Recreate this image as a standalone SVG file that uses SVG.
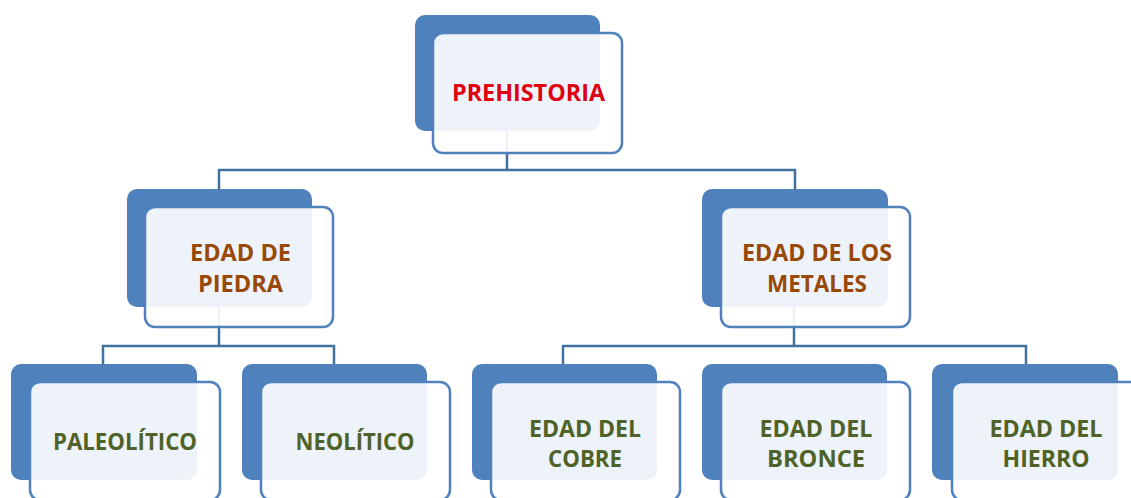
<svg xmlns="http://www.w3.org/2000/svg" width="1131" height="498" viewBox="0 0 1131 498">
<style>
.back{fill:#4f81bd;}
.front{fill:#ffffff;fill-opacity:0.9;stroke:#4f81bd;stroke-width:2.5;}
.conn{fill:none;stroke:#41719c;stroke-width:2.5;}
text{font-family:"Open Sans","Liberation Sans",Arial,sans-serif;font-weight:bold;font-size:24px;text-anchor:middle;}
.red{fill:#e0000f;}
.brown{fill:#984807;}
.green{fill:#4f6228;}
</style>
<rect width="1131" height="498" fill="#ffffff"/>
<g id="connectors">
<path class="conn" d="M507,131 V170 M219,189 V170 H795 V189"/>
<path class="conn" d="M219,307 V346 M103,364 V346 H334 V364"/>
<path class="conn" d="M794,307 V346 M563,364 V346 H1026 V364"/>
</g>
<g id="prehistoria">
<rect class="back" x="415" y="15" width="185" height="116" rx="10"/>
<rect class="front" x="433" y="33" width="189" height="120" rx="10"/>
<text class="red" x="528.5" y="101" textLength="153" lengthAdjust="spacingAndGlyphs">PREHISTORIA</text>
</g>
<g id="piedra">
<rect class="back" x="127" y="189" width="185" height="118" rx="10"/>
<rect class="front" x="145" y="207" width="188" height="120" rx="10"/>
<text class="brown" x="240.5" y="261" textLength="101" lengthAdjust="spacingAndGlyphs">EDAD DE</text>
<text class="brown" x="240.5" y="292" textLength="85" lengthAdjust="spacingAndGlyphs">PIEDRA</text>
</g>
<g id="metales">
<rect class="back" x="702" y="189" width="186" height="118" rx="10"/>
<rect class="front" x="721" y="207" width="189" height="120" rx="10"/>
<text class="brown" x="817" y="261" textLength="150" lengthAdjust="spacingAndGlyphs">EDAD DE LOS</text>
<text class="brown" x="817" y="292" textLength="100" lengthAdjust="spacingAndGlyphs">METALES</text>
</g>
<g id="paleolitico">
<rect class="back" x="11" y="364" width="186" height="116" rx="10"/>
<rect class="front" x="30" y="382" width="190" height="118" rx="10"/>
<text class="green" x="125" y="450" textLength="144" lengthAdjust="spacingAndGlyphs">PALEOLÍTICO</text>
</g>
<g id="neolitico">
<rect class="back" x="242" y="364" width="185" height="116" rx="10"/>
<rect class="front" x="261" y="382" width="189" height="118" rx="10"/>
<text class="green" x="355" y="450" textLength="119" lengthAdjust="spacingAndGlyphs">NEOLÍTICO</text>
</g>
<g id="cobre">
<rect class="back" x="472" y="364" width="185" height="116" rx="10"/>
<rect class="front" x="491" y="382" width="189" height="118" rx="10"/>
<text class="green" x="585" y="437" textLength="112" lengthAdjust="spacingAndGlyphs">EDAD DEL</text>
<text class="green" x="585" y="467" textLength="74" lengthAdjust="spacingAndGlyphs">COBRE</text>
</g>
<g id="bronce">
<rect class="back" x="702" y="364" width="185" height="116" rx="10"/>
<rect class="front" x="721" y="382" width="189" height="118" rx="10"/>
<text class="green" x="816" y="437" textLength="113" lengthAdjust="spacingAndGlyphs">EDAD DEL</text>
<text class="green" x="816" y="467" textLength="98" lengthAdjust="spacingAndGlyphs">BRONCE</text>
</g>
<g id="hierro">
<rect class="back" x="932" y="364" width="186" height="116" rx="10"/>
<rect class="front" x="952" y="382" width="190" height="118" rx="10"/>
<text class="green" x="1046" y="437" textLength="113" lengthAdjust="spacingAndGlyphs">EDAD DEL</text>
<text class="green" x="1046" y="467" textLength="87" lengthAdjust="spacingAndGlyphs">HIERRO</text>
</g>
</svg>
